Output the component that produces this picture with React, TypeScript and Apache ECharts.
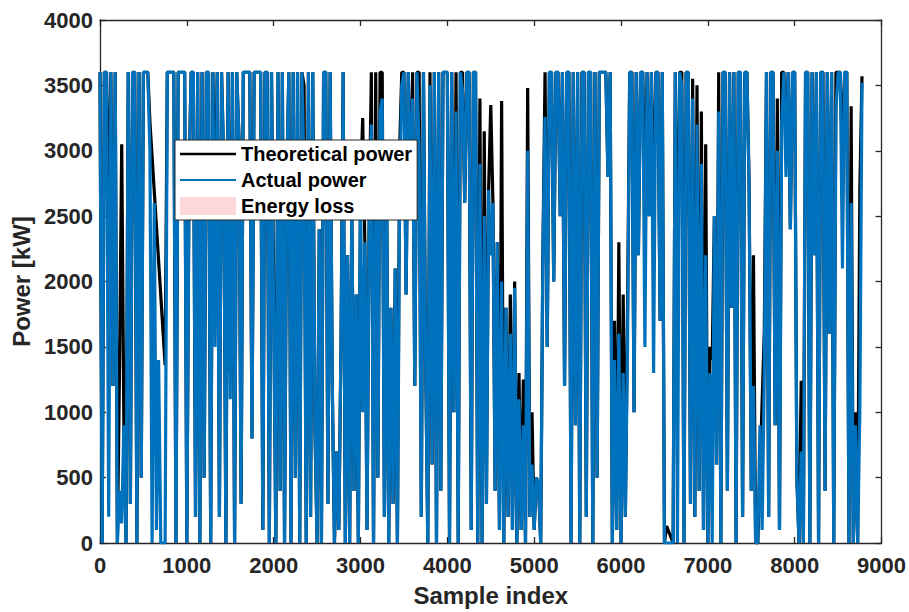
import React, { useEffect, useRef } from "react";
import * as echarts from "echarts";

// Sample spacing of the stored readings (sample index step)
const STEP = 25;

// Actual power [kW] (4 consecutive chunks)
const ACTUAL_1 = [
  3600, 0, 3600, 3600, 200, 3600, 1200, 3600, 0, 400,
  150, 900, 0, 3600, 300, 3600, 3600, 0, 3600, 500,
  3600, 3600, 3600, 3000, 0, 2600, 100, 1400, 0, 0,
  0, 3600, 3600, 3600, 3600, 0, 3600, 3600, 3600, 3600,
  0, 2800, 3600, 3600, 200, 3600, 0, 3600, 500, 3600,
  3600, 0, 3600, 1500, 3600, 200, 3600, 2900, 0, 3600,
  1100, 3600, 0, 3600, 3100, 300, 3600, 3600, 3600, 3600,
  800, 3600, 3600, 3600, 3600, 100, 3600, 3600, 0, 3600,
  1700, 0, 3600, 400, 3600, 0, 2800, 3600, 0, 3600,
];
const ACTUAL_2 = [
  500, 3600, 0, 3600, 2800, 0, 3600, 200, 3600, 900,
  0, 2400, 0, 3600, 3600, 300, 3600, 1200, 0, 700,
  100, 1500, 3600, 0, 2200, 0, 2600, 400, 1900, 0,
  2700, 1000, 2300, 100, 2500, 3200, 0, 3000, 500, 3300,
  3400, 200, 2900, 0, 1800, 300, 2100, 0, 2600, 3500,
  3600, 1900, 3600, 2600, 3400, 1200, 3600, 3000, 200, 3600,
  1400, 0, 3500, 600, 3600, 0, 3600, 400, 3600, 3600,
  3600, 0, 3600, 1000, 3300, 0, 3600, 3450, 2600, 3600,
  3600, 100, 3600, 3600, 0, 2900, 0, 2500, 300, 2700,
];
const ACTUAL_3 = [
  2200, 2600, 400, 2300, 100, 2000, 0, 1800, 200, 1600,
  100, 1950, 0, 1100, 100, 900, 0, 3000, 200, 600,
  100, 500, 450, 0, 2200, 3260, 1500, 3600, 3600, 2000,
  3600, 3600, 2500, 3600, 1200, 3600, 3600, 0, 3600, 900,
  3600, 0, 3600, 3600, 200, 3600, 3600, 0, 3600, 500,
  3600, 3600, 3600, 3600, 2800, 3600, 0, 1400, 100, 1600,
  0, 1300, 200, 1500, 3600, 3600, 1000, 3600, 2200, 3600,
  3600, 1500, 3600, 2500, 3600, 1300, 3600, 3600, 1700, 3600,
  0, 0, 0, 0, 0, 3600, 0, 3600, 3500, 0,
];
const ACTUAL_4 = [
  3600, 3600, 300, 3400, 200, 3200, 400, 2900, 100, 2200,
  0, 1300, 0, 2500, 600, 3300, 0, 3600, 3600, 400,
  3600, 1800, 3600, 0, 3600, 3600, 200, 3600, 3600, 2700,
  400, 1200, 0, 0, 900, 100, 1300, 3600, 200, 3600,
  3600, 900, 3000, 100, 3200, 3600, 2800, 3600, 2400, 3600,
  3600, 500, 0, 700, 0, 3600, 3600, 0, 3600, 2200,
  3600, 0, 3600, 3600, 400, 3600, 1600, 3600, 0, 3300,
  3600, 3600, 2100, 3600, 3600, 0, 2600, 0, 900, 0,
  1000, 3520,
];

// Theoretical power [kW]; null = no reading (line bridges the gap)
const THEORETICAL_1 = [
  3600, 0, 3600, 3600, 2450, 3600, 1200, 3600, 0, 1350,
  3050, 900, 0, 3600, 300, 3600, 3600, 0, 3600, 500,
  3600, 3600, 3600, 3220, null, null, null, null, null, null,
  1360, 3600, 3600, 3600, 3600, 0, 3600, 3600, 3600, 3600,
  0, 2800, 3600, 3600, 200, 3600, 0, 3600, 500, 3600,
  3600, 0, 3600, 2500, 3600, 200, 3600, 2900, 0, 3600,
  1300, 3600, 0, 3600, 3100, 300, 3600, 3600, 3600, 3600,
  800, 3600, 3600, 3600, 3600, 100, 3600, 3600, 0, 3600,
  2000, 0, 3600, 400, 3600, 0, 2800, 3600, 0, 3600,
];
const THEORETICAL_2 = [
  500, 3600, 0, 3600, 3500, 0, 3600, 200, 3600, 900,
  0, 2400, 0, 3600, 3600, 300, 3600, 1200, 0, 700,
  100, 1500, 3600, 0, 2200, 0, 2600, 400, 1900, 0,
  2700, 3250, 2300, 100, 2500, 3600, 0, 3600, 500, 3600,
  3600, 200, 2900, 0, 1800, 300, 2100, 0, 3000, 3600,
  3600, 1900, 3600, 2600, 3600, 1200, 3600, 3600, 200, 3600,
  1400, 0, 3600, 600, 3600, 0, 3600, 400, 3600, 3600,
  3600, 0, 3600, 1000, 3600, 0, 3600, 3600, 2600, 3600,
  3600, 100, 3600, 3600, 0, 3400, 0, 3150, 300, 2700,
];
const THEORETICAL_3 = [
  3350, 2600, 400, 2300, 100, 3380, 0, 1800, 200, 1900,
  100, 2000, 0, 1300, 100, 1250, 0, 3480, 200, 1000,
  100, 500, 450, 0, 2200, 3600, 1500, 3600, 3600, 2000,
  3600, 3600, 2500, 3600, 1200, 3600, 3600, 0, 3600, 900,
  3600, 0, 3600, 3600, 200, 3600, 3600, 0, 3600, 500,
  3600, 3600, 3600, 3600, 2800, 3600, 0, 1700, 100, 2300,
  0, 1900, 200, 1800, 3600, 3600, 1000, 3600, 2200, 3600,
  3600, 2600, 3600, 2500, 3600, 2400, 3600, 3600, 1700, 3600,
  0, 130, null, null, 0, 3600, 1650, 3600, 3600, 0,
];
const THEORETICAL_4 = [
  3600, 3600, 300, 3550, 200, 3500, 400, 3300, 100, 3050,
  0, 1500, 1400, 2500, 600, 3600, 0, 3600, 3600, 400,
  3600, 1800, 3600, 0, 3600, 3600, 200, 3600, 3600, 2750,
  400, 2200, 0, 0, null, null, 1620, 3600, 200, 3600,
  3600, 900, 3400, 100, 3600, 3600, 3050, 3600, 2400, 3600,
  3600, 500, 0, 1240, 0, 3600, 3600, 0, 3600, 2200,
  3600, 0, 3600, 3600, 400, 3600, 1600, 3600, 0, 3600,
  3600, 3600, 2900, 3600, 3600, 0, 3340, 0, 1000, 0,
  2700, 3570,
];

const ACTUAL = [...ACTUAL_1, ...ACTUAL_2, ...ACTUAL_3, ...ACTUAL_4];
const THEORETICAL = [...THEORETICAL_1, ...THEORETICAL_2, ...THEORETICAL_3, ...THEORETICAL_4];

const SERIES_NAMES = ["Theoretical power", "Actual power", "Energy loss"];
const X_TICKS = { min: 0, max: 9000, interval: 1000 };
const Y_TICKS = { min: 0, max: 4000, interval: 500 };

const FONT = "'Liberation Sans', Arial, Helvetica, sans-serif";
const AXIS_COLOR = "#262626";
const BLUE = "#0072BD";
const PINK = "#FFD9D9";

function toPairs(vals: (number | null)[]) {
  return vals.map((v, i) => [i * STEP, v === null ? "-" : v]);
}

export default function App() {
  const ref = useRef<HTMLDivElement>(null);

  useEffect(() => {
    if (!ref.current) return;
    const chart = echarts.init(ref.current, undefined, { renderer: "svg" });

    const axisLine = { show: true, onZero: false, lineStyle: { color: AXIS_COLOR, width: 1.3 } };
    const axisTick = { show: true, inside: true, length: 6, lineStyle: { color: AXIS_COLOR, width: 1.3 } };
    const label = {
      fontSize: 22,
      fontWeight: "bold",
      color: AXIS_COLOR,
      fontFamily: FONT,
      formatter: (v: number) => String(v),
    };
    const nameStyle = { fontSize: 24, fontWeight: "bold", color: AXIS_COLOR, fontFamily: FONT };

    chart.setOption({
      animation: false,
      backgroundColor: "#ffffff",
      grid: { left: 100, right: 25, top: 20, bottom: 66, containLabel: false },
      legend: {
        orient: "vertical",
        left: 175,
        top: 140,
        itemWidth: 56,
        itemHeight: 18,
        itemGap: 6,
        itemTextGap: 6,
        padding: [4, 5, 4, 5],
        backgroundColor: "#ffffff",
        borderColor: AXIS_COLOR,
        borderWidth: 1,
        borderRadius: 0,
        textStyle: { fontSize: 20, fontWeight: "bold", color: "#000000", fontFamily: FONT },
        data: [
          { name: SERIES_NAMES[0], icon: "path://M0,0L56,0L56,2.6L0,2.6Z", itemStyle: { color: "#000000" } },
          { name: SERIES_NAMES[1], icon: "path://M0,0L56,0L56,1.8L0,1.8Z", itemStyle: { color: BLUE } },
          { name: SERIES_NAMES[2], icon: "rect", itemStyle: { color: PINK } },
        ],
      },
      xAxis: [
        {
          type: "value",
          position: "bottom",
          ...X_TICKS,
          axisLine,
          axisTick,
          axisLabel: { ...label, margin: 11 },
          splitLine: { show: false },
          name: "Sample index",
          nameLocation: "middle",
          nameGap: 40,
          nameTextStyle: nameStyle,
        },
        {
          type: "value",
          position: "top",
          ...X_TICKS,
          axisLine,
          axisTick,
          axisLabel: { show: false },
          splitLine: { show: false },
        },
      ],
      yAxis: [
        {
          type: "value",
          position: "left",
          ...Y_TICKS,
          axisLine,
          axisTick,
          axisLabel: { ...label, margin: 7 },
          splitLine: { show: false },
          name: "Power [kW]",
          nameLocation: "middle",
          nameGap: 62,
          nameTextStyle: nameStyle,
        },
        {
          type: "value",
          position: "right",
          ...Y_TICKS,
          axisLine,
          axisTick,
          axisLabel: { show: false },
          splitLine: { show: false },
        },
      ],
      series: [
        {
          name: SERIES_NAMES[2],
          type: "bar",
          data: [],
          itemStyle: { color: PINK },
        },
        {
          name: SERIES_NAMES[0],
          type: "line",
          data: toPairs(THEORETICAL),
          symbol: "none",
          showSymbol: false,
          connectNulls: true,
          lineStyle: { color: "#000000", width: 3.2 },
          itemStyle: { color: "#000000" },
        },
        {
          name: SERIES_NAMES[1],
          type: "line",
          data: toPairs(ACTUAL),
          symbol: "none",
          showSymbol: false,
          lineStyle: { color: BLUE, width: 3.2 },
          itemStyle: { color: BLUE },
        },
      ],
    });

    return () => chart.dispose();
  }, []);

  return (
    <div
      ref={ref}
      style={{ position: "absolute", left: 0, top: 0, width: 909, height: 612 }}
    />
  );
}
